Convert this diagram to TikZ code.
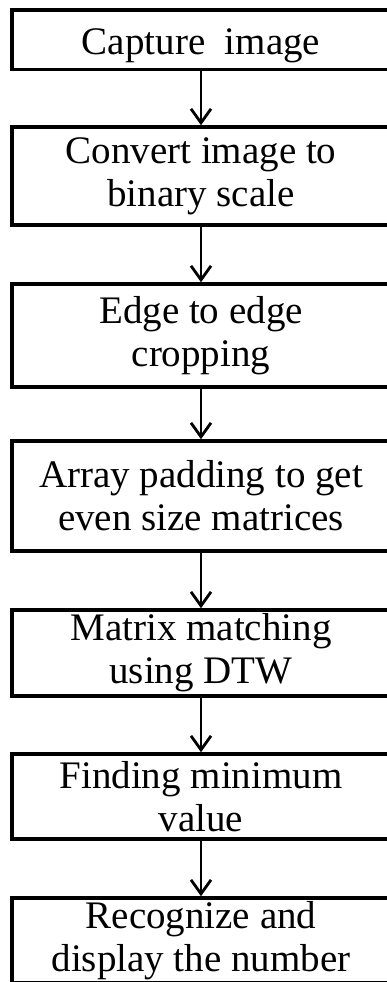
\documentclass[tikz,border=0pt]{standalone}
\usepackage{fontspec}
\setmainfont{Liberation Serif}
\usetikzlibrary{arrows.meta}

\begin{document}
\begin{tikzpicture}[x=1pt,y=-1pt,
  stepbox/.style={draw=black, line width=3.5pt, rectangle, minimum width=378pt,
    inner sep=0pt, align=center, font=\fontsize{39}{43}\selectfont},
  flow/.style={draw=black, line width=2.8pt,
    -{Straight Barb[length=14pt,width=20pt,line width=2.8pt]}}]
  \useasboundingbox (0,0) rectangle (387,982);
  \clip (0,0) rectangle (387,982);

  % process steps, top to bottom
  \node[stepbox, minimum height=59.5pt] (b1) at (201,39.75) {\raisebox{-6pt}[0pt][0pt]{Capture\ \ image}\vphantom{Cpg}};
  \node[stepbox, minimum height=98pt]   (b2) at (201,176)   {Convert image to\\binary scale};
  \node[stepbox, minimum height=103pt]  (b3) at (201,335.5) {Edge to edge\\cropping};
  \node[stepbox, minimum height=110pt]  (b4) at (201,496)   {Array padding to get\\even size matrices};
  \node[stepbox, minimum height=86pt]   (b5) at (201,653)   {Matrix matching\\using DTW};
  \node[stepbox, minimum height=85pt]   (b6) at (201,796.5) {Finding minimum\\value};
  \node[stepbox, minimum height=84.5pt] (b7) at (201,940.25) {Recognize and\\display the number};

  % connectors
  \draw[flow] (b1) -- (b2);
  \draw[flow] (b2) -- (b3);
  \draw[flow] (b3) -- (b4);
  \draw[flow] (b4) -- (b5);
  \draw[flow] (b5) -- (b6);
  \draw[flow] (b6) -- (b7);
\end{tikzpicture}
\end{document}
